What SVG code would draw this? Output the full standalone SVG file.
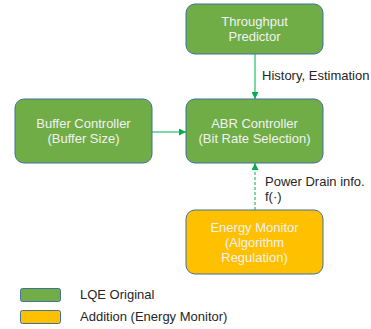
<svg xmlns="http://www.w3.org/2000/svg" width="371" height="329" viewBox="0 0 371 329">
  <style>
    .green { fill: #70AD47; stroke: #41719C; stroke-width: 1; }
    .orange { fill: #FFC000; stroke: #41719C; stroke-width: 1; }
    .label { font-family: "Liberation Sans", Arial, sans-serif; font-size: 13px; fill: #F2F2F2; text-anchor: middle; }
    .note { font-family: "Liberation Sans", Arial, sans-serif; font-size: 13px; fill: #262626; }
    .conn { stroke: #00B050; stroke-width: 1; fill: none; }
    .dash { stroke-dasharray: 3 2; }
  </style>
  <defs>
    <marker id="head" viewBox="0 0 10 10" refX="10" refY="5" markerWidth="7" markerHeight="7" markerUnits="userSpaceOnUse" orient="auto">
      <path d="M0,0 L10,5 L0,10 Z" fill="#00B050"/>
    </marker>
  </defs>

  <g id="connectors">
    <line class="conn" x1="255" y1="54" x2="255" y2="99" marker-end="url(#head)"/>
    <line class="conn" x1="152" y1="132" x2="186" y2="132" marker-end="url(#head)"/>
    <line class="conn dash" x1="255" y1="210" x2="255" y2="163" marker-end="url(#head)"/>
    <text class="note" x="262" y="80">History, Estimation</text>
    <text class="note" x="265" y="186">Power Drain info.</text>
    <text class="note" x="265" y="201">f(·)</text>
  </g>

  <g id="throughput-predictor">
    <rect class="green" x="186" y="4" width="137" height="50" rx="9"/>
    <text class="label" x="254.5" y="26">Throughput</text>
    <text class="label" x="254.5" y="41">Predictor</text>
  </g>

  <g id="buffer-controller">
    <rect class="green" x="15" y="99" width="137" height="64" rx="9"/>
    <text class="label" x="83.5" y="128">Buffer Controller</text>
    <text class="label" x="83.5" y="143">(Buffer Size)</text>
  </g>

  <g id="abr-controller">
    <rect class="green" x="186" y="99" width="137" height="64" rx="9"/>
    <text class="label" x="254.5" y="128">ABR Controller</text>
    <text class="label" x="254.5" y="143">(Bit Rate Selection)</text>
  </g>

  <g id="energy-monitor">
    <rect class="orange" x="186" y="210" width="137" height="64" rx="9"/>
    <text class="label" x="254.5" y="232">Energy Monitor</text>
    <text class="label" x="254.5" y="247">(Algorithm</text>
    <text class="label" x="254.5" y="262">Regulation)</text>
  </g>

  <g id="legend">
    <rect class="green" x="20.5" y="288.5" width="40" height="13" rx="2"/>
    <text class="note" x="80" y="299">LQE Original</text>
    <rect class="orange" x="20.5" y="310.5" width="40" height="13" rx="2"/>
    <text class="note" x="80" y="321">Addition (Energy Monitor)</text>
  </g>
</svg>
